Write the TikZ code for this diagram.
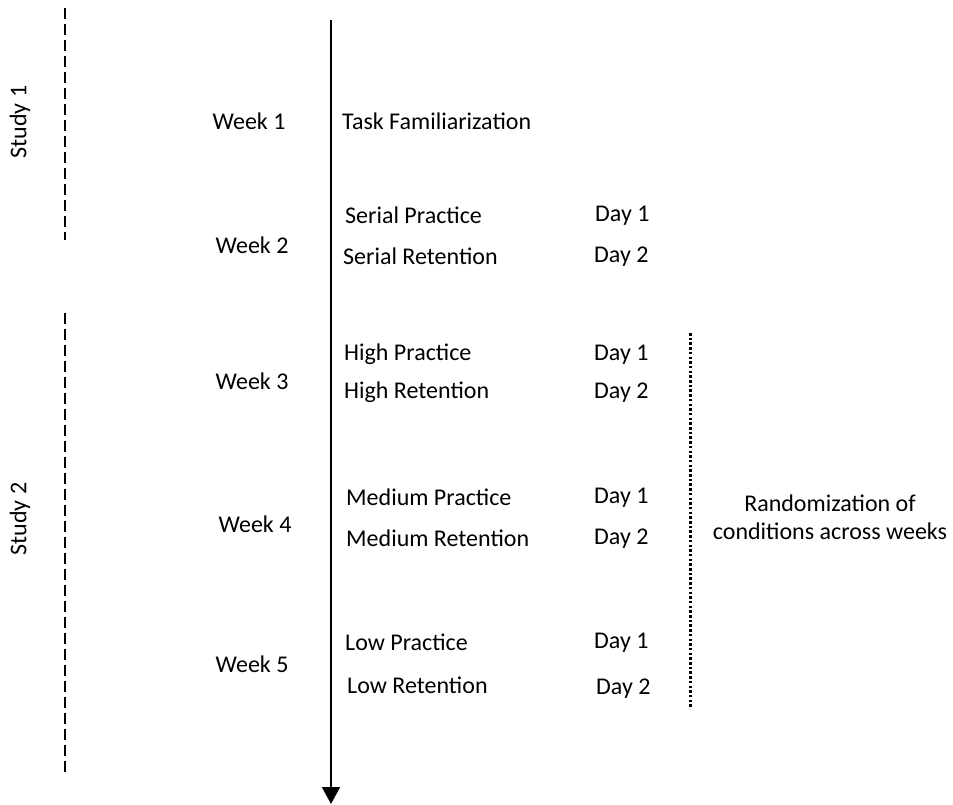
\documentclass[tikz,border=0pt]{standalone}
\usepackage{fontspec}
\setmainfont{Carlito}
\usepackage{tikz}
\usetikzlibrary{positioning, arrows.meta}

\begin{document}
\begin{tikzpicture}[
  x=1pt, y=-1pt,
  font=\fontsize{24}{28}\selectfont,
  lbl/.style={anchor=west, inner sep=0pt},
  wk/.style={inner sep=0pt},
  studyline/.style={line width=1.3pt, dash pattern=on 11pt off 5pt},
  randline/.style={line width=3pt, dash pattern=on 2.5pt off 2.2pt}
]
  \useasboundingbox (0,0) rectangle (953,805);

  % time axis
  \coordinate (axtop) at (331,20);
  \coordinate (axbot) at (331,804);
  \draw[line width=1.8pt, -{Triangle[width=18pt, length=17pt]}] (axtop) -- (axbot);

  % studies
  \coordinate (s1top) at (65,8);
  \coordinate (s1bot) at (65,240);
  \coordinate (s2top) at (65,313);
  \coordinate (s2bot) at (65,775);
  \draw[studyline] (s1top) -- (s1bot);
  \draw[studyline] (s2top) -- (s2bot);
  \node[wk, rotate=90] (study1) at (20,122) {Study 1};
  \node[wk, rotate=90] (study2) at (20,519) {Study 2};

  % weeks
  \node[wk] (wk1) at (249,121) {Week 1};
  \node[wk] (wk2) at (252,245) {Week 2};
  \node[wk] (wk3) at (252,381) {Week 3};
  \node[wk] (wk4) at (255,524) {Week 4};
  \node[wk] (wk5) at (252,664) {Week 5};

  % sessions
  \node[lbl] (tf) at (342,121) {Task Familiarization};
  \node[lbl] (sp) at (345,215) {Serial Practice};
  \node[lbl] (sr) at (343,256) {Serial Retention};
  \node[lbl] (hp) at (344,354) {High Practice};
  \node[lbl] (hr) at (344,392) {High Retention};
  \node[lbl] (mp) at (346,497) {Medium Practice};
  \node[lbl] (mr) at (346,538) {Medium Retention};
  \node[lbl] (lp) at (345,642) {Low Practice};
  \node[lbl] (lr) at (347,685) {Low Retention};

  % days
  \node[lbl] (sd1) at (595,216) {Day 1};
  \node[lbl] (sd2) at (594,257) {Day 2};
  \node[lbl] (hd1) at (594,355) {Day 1};
  \node[lbl] (hd2) at (594,393) {Day 2};
  \node[lbl] (md1) at (594,498) {Day 1};
  \node[lbl] (md2) at (594,539) {Day 2};
  \node[lbl] (ld1) at (594,643) {Day 1};
  \node[lbl] (ld2) at (596,689) {Day 2};

  % randomization
  \coordinate (rtop) at (690,333);
  \coordinate (rbot) at (690,709);
  \draw[randline] (rtop) -- (rbot);
  \node[wk, align=center] (rand) at (830,517) {Randomization of\\conditions across weeks};
\end{tikzpicture}
\end{document}
